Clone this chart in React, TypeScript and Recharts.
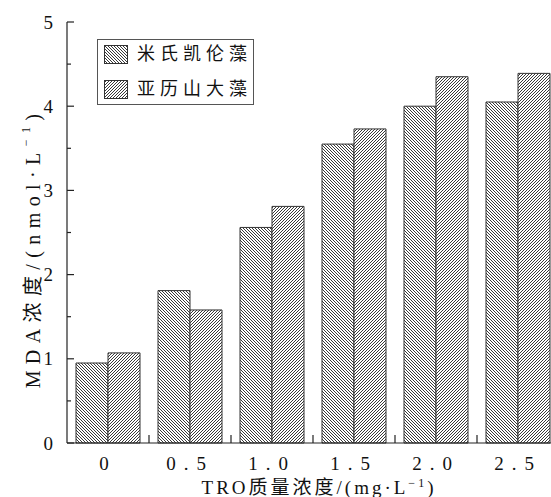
import React from 'react';
import { BarChart, Bar, XAxis, YAxis, Legend } from 'recharts';

const categories = ['0', '0.5', '1.0', '1.5', '2.0', '2.5'];
const karenia = [0.95, 1.81, 2.56, 3.55, 4.0, 4.05];
const alexandrium = [1.07, 1.58, 2.81, 3.73, 4.35, 4.39];
const seriesNames = ['米氏凯伦藻', '亚历山大藻'];
const seriesKeys = ['a', 'b'];
const seriesPatterns = ['hatchA', 'hatchB'];
const yTicks = [0, 0.5, 1, 1.5, 2, 2.5, 3, 3.5, 4, 4.5, 5];

const data = categories.map((c, i) => ({ cat: c, a: karenia[i], b: alexandrium[i] }));

const FONT = "'Liberation Serif', 'Times New Roman', 'Noto Sans CJK SC', serif";
const AXIS = '#222';

const YTick = (props: any) => {
  const { x, y, payload } = props;
  const v = payload.value;
  const major = Number.isInteger(v);
  return (
    <g>
      <line x1={x} x2={x + (major ? 7 : 4)} y1={y} y2={y} stroke={AXIS} strokeWidth={1.2} />
      {major && (
        <text x={x - 14} y={y} textAnchor="end" dominantBaseline="central" fontSize={19} fontFamily={FONT} fill="#111">
          {v}
        </text>
      )}
    </g>
  );
};

const XTick = (props: any) => {
  const { x, y, payload } = props;
  const off = payload.offset || 0;
  return (
    <g>
      <line x1={x + off} x2={x + off} y1={y} y2={y - 8} stroke={AXIS} strokeWidth={1.2} />
      <text x={x} y={y + 27} textAnchor="middle" fontSize={19} fontFamily={FONT} fill="#111" letterSpacing={8}>
        {payload.value}
      </text>
    </g>
  );
};

const YTitle = (props: any) => {
  const vb = props.viewBox;
  const cx = vb.x + 33;
  const cy = vb.y + vb.height / 2 + 15.5;
  return (
    <text
      x={cx}
      y={cy}
      transform={`rotate(-90, ${cx}, ${cy})`}
      textAnchor="middle"
      dominantBaseline="central"
      fontSize={20}
      fontFamily={FONT}
      fill="#111"
      letterSpacing={6.4}
    >
      MDA浓度/(nmol·L
      <tspan fontSize={12} dy={-7}>−1</tspan>
      <tspan dy={7}>)</tspan>
    </text>
  );
};

const XTitle = (props: any) => {
  const vb = props.viewBox;
  const cx = vb.x + vb.width / 2 + 6;
  const cy = vb.y + 51;
  return (
    <text x={cx} y={cy} textAnchor="middle" fontSize={19} fontFamily={FONT} fill="#111" letterSpacing={3}>
      TRO质量浓度/(mg·L
      <tspan fontSize={12} dy={-7}>−1</tspan>
      <tspan dy={7}>)</tspan>
    </text>
  );
};

const LegendBox = (props: any) => {
  const payload = props.payload || [];
  const items = seriesKeys.map((k, i) => {
    const found = payload.find((p: any) => p.dataKey === k);
    return { name: found ? found.value : seriesNames[i], pattern: seriesPatterns[i] };
  });
  return (
    <div
      style={{
        border: '1px solid #555',
        width: 157,
        boxSizing: 'border-box',
        padding: '5px 0 6px 6px',
        background: '#fff',
      }}
    >
      {items.map((p, i) => (
        <div key={i} style={{ display: 'flex', alignItems: 'center', height: 18, marginBottom: i === 0 ? 17 : 0 }}>
          <svg width={24} height={19} style={{ display: 'block' }}>
            <rect x={0.5} y={0.5} width={23} height={18} fill={`url(#${p.pattern})`} stroke="#333" />
          </svg>
          <span
            style={{
              marginLeft: 9,
              fontSize: 18,
              lineHeight: '18px',
              letterSpacing: 5,
              fontFamily: FONT,
              color: '#111',
              whiteSpace: 'nowrap',
            }}
          >
            {p.name}
          </span>
        </div>
      ))}
    </div>
  );
};

export default function App() {
  return (
    <div
      style={{
        position: 'absolute',
        left: 0,
        top: 0,
        width: 551,
        height: 497,
        overflow: 'hidden',
        background: '#fff',
      }}
    >
      <svg width={0} height={0} style={{ position: 'absolute' }}>
        <defs>
          <pattern id="hatchA" patternUnits="userSpaceOnUse" width={3} height={3}>
            <rect width={3} height={3} fill="#fff" />
            <path d="M-1,-1 L4,4 M-1,2 L1,4 M2,-1 L4,1" stroke="#222" strokeWidth={0.9} />
          </pattern>
          <pattern id="hatchB" patternUnits="userSpaceOnUse" width={3} height={3}>
            <rect width={3} height={3} fill="#fff" />
            <path d="M-1,4 L4,-1 M-1,1 L1,-1 M2,4 L4,2" stroke="#222" strokeWidth={0.9} />
          </pattern>
        </defs>
      </svg>
      <BarChart
        width={600}
        height={497}
        data={data}
        margin={{ top: 22, right: 41, left: 0, bottom: 0 }}
        barCategoryGap={9}
        barGap={0}
      >
        <XAxis
          dataKey="cat"
          height={54}
          tickSize={0}
          tickMargin={0}
          interval={0}
          tick={<XTick />}
          axisLine={{ stroke: AXIS, strokeWidth: 1.2 }}
          tickLine={false}
          label={{ content: <XTitle /> }}
        />
        <XAxis
          xAxisId="top"
          dataKey="cat"
          orientation="top"
          height={0}
          tick={false}
          tickLine={false}
          axisLine={{ stroke: AXIS, strokeWidth: 1.2 }}
        />
        <YAxis
          type="number"
          domain={[0, 5]}
          ticks={yTicks}
          interval={0}
          width={67}
          tickSize={0}
          tickMargin={0}
          tick={<YTick />}
          tickLine={false}
          axisLine={{ stroke: AXIS, strokeWidth: 1.2 }}
          label={{ content: <YTitle /> }}
        />
        <Legend
          layout="vertical"
          align="center"
          verticalAlign="middle"
          content={<LegendBox />}
          wrapperStyle={{ left: 97, top: 39, width: 'auto' }}
        />
        <Bar dataKey="a" name={seriesNames[0]} fill="url(#hatchA)" stroke="#333" strokeWidth={1} isAnimationActive={false} />
        <Bar dataKey="b" name={seriesNames[1]} fill="url(#hatchB)" stroke="#333" strokeWidth={1} isAnimationActive={false} />
      </BarChart>
    </div>
  );
}
